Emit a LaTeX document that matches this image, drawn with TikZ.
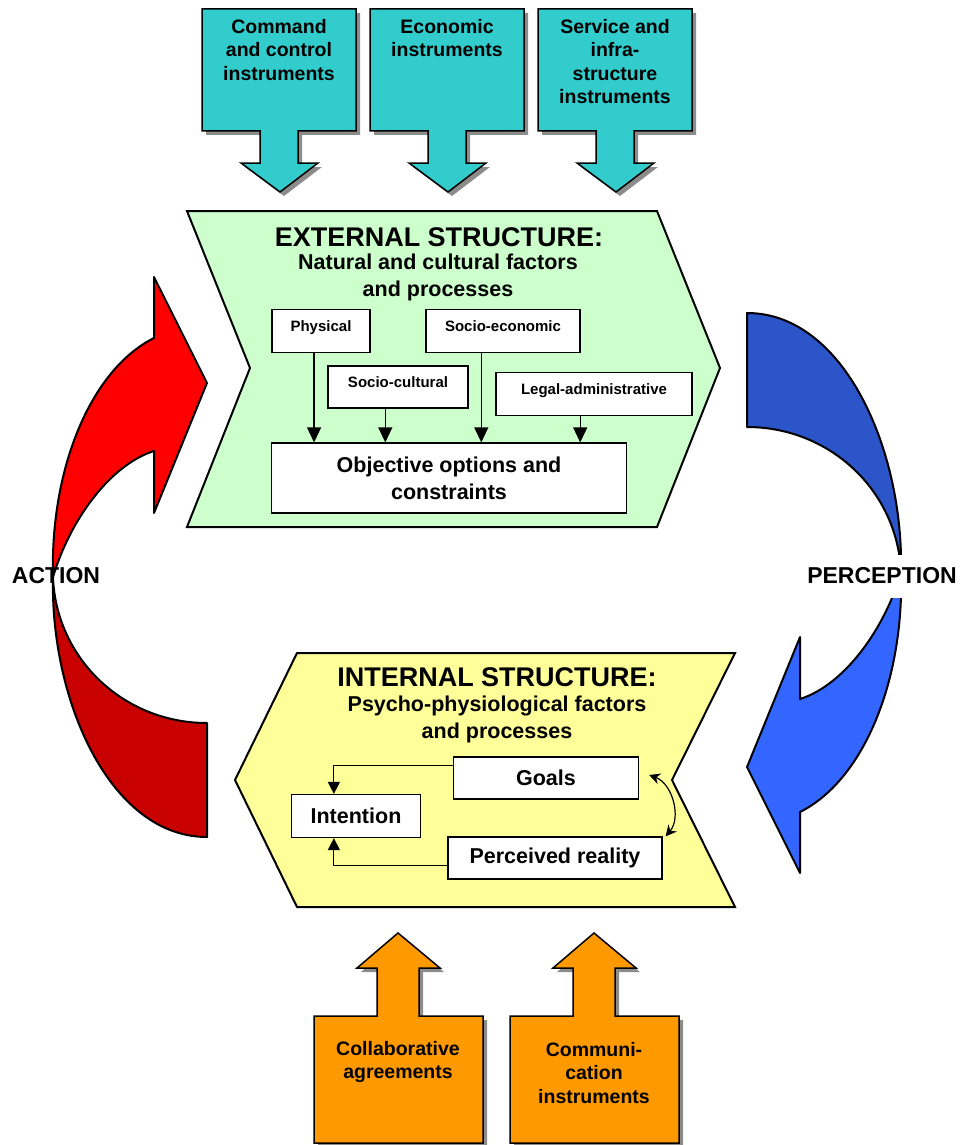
\documentclass[tikz,border=0pt]{standalone}
\usepackage{fontspec}
\setmainfont{Liberation Sans}
\usetikzlibrary{calc,arrows.meta,shadows}
\definecolor{instrcol}{HTML}{33CCCC}
\definecolor{agreecol}{HTML}{FF9900}
\definecolor{extcol}{HTML}{CCFFCC}
\definecolor{intcol}{HTML}{FFFF99}
\definecolor{actionbright}{HTML}{FF0000}
\definecolor{actiondark}{HTML}{C80000}
\definecolor{perceptbright}{HTML}{3366FF}
\definecolor{perceptdark}{HTML}{2B55C8}
\tikzset{
	instrument/.style={draw,line width=1.5pt,fill=instrcol,drop shadow={shadow xshift=4pt,shadow yshift=-4pt,fill=black!45,opacity=1}},%
	agreement/.style={draw,line width=1.5pt,fill=agreecol,drop shadow={shadow xshift=4pt,shadow yshift=-4pt,fill=black!45,opacity=1}},%
	instrtext/.style={font={\bfseries\fontsize{19.5}{23.5}\selectfont},align=center,inner sep=0pt,anchor=north},%
	structure/.style={draw,line width=2pt,line join=miter},%
	heading/.style={font={\bfseries\fontsize{27}{32}\selectfont},inner sep=0pt},%
	subheading/.style={font={\bfseries\fontsize{21.5}{27}\selectfont},align=center,inner sep=0pt},%
	factor/.style={draw,line width=1.2pt,fill=white,font={\bfseries\fontsize{15}{18}\selectfont},inner sep=0pt,text height=11pt,text depth=10pt},%
	element/.style={draw,line width=1.2pt,fill=white,font={\bfseries\fontsize{21.5}{27}\selectfont},align=center,inner sep=0pt},%
	feed/.style={line width=1.2pt,-{Triangle[width=14pt,length=15pt]}},%
	link/.style={line width=1.2pt,-{Triangle[width=12pt,length=12pt]}},%
	mutual/.style={line width=1.2pt,{Stealth[width=11pt,length=11pt]}-{Stealth[width=11pt,length=11pt]}},%
	loopband/.style={draw,line width=2pt,line join=round},%
	looplabel/.style={font={\bfseries\fontsize{23}{27}\selectfont},inner sep=0pt},%
}
\def\loopx{477}
\def\loopy{575}

\begin{document}
\begin{tikzpicture}[x=1pt,y=-1pt]
	\useasboundingbox (0,0) rectangle (960,1145);
	\foreach \x in {202,370,538}
		\filldraw[instrument] (\x,9) -- ++(154,0) -- ++(0,122) -- ++(-58,0) -- ++(0,32) -- ++(20,0) -- ++(-38,29) -- ++(-39,-29) -- ++(19,0) -- ++(0,-32) -- ++(-58,0) -- cycle;
	\node[instrtext] (cmdtext) at (279,19) {Command\\and control\\instruments};
	\node[instrtext] (ecotext) at (447,19) {Economic\\instruments};
	\node[instrtext] (servtext) at (615,19) {Service and\\infra-\\structure\\instruments};

	\foreach \ang/\dark/\bright in {0/actiondark/actionbright,180/perceptdark/perceptbright}{
		\begin{scope}[rotate around={\ang:(\loopx,\loopy)}]
			\path[loopband,fill=\dark] (207,837) -- (207,723) .. controls (124,723) and (56,659) .. (53,577) .. controls (50,700) and (110,837) .. (207,837) -- cycle;
			\path[loopband,fill=\bright] (53,577) .. controls (50,470) and (90,370) .. (154,338) -- (154,277) -- (207,383) -- (154,513) -- (154,451) .. controls (110,465) and (70,520) .. (53,577) -- cycle;
		\end{scope}
	}
	\node[looplabel] (action) at (56,576) {ACTION};
	\node[looplabel,fill=white,minimum height=43pt,inner xsep=2pt] (perception) at (882,576) {PERCEPTION};

	\filldraw[structure,fill=extcol] (187,211) -- (657,211) -- (720,368) -- (657,527) -- (187,527) -- (250,368) -- cycle;
	\node[heading] (exthead) at (439,237) {EXTERNAL STRUCTURE:};
	\node[subheading] (extsub) at (438,277) {Natural and cultural factors\\and processes};
	\node[factor,minimum width=98pt,minimum height=43pt] (phys) at (321,331) {Physical};
	\node[factor,minimum width=154pt,minimum height=43pt] (socecon) at (503,331) {Socio-economic};
	\node[factor,minimum width=140pt,minimum height=42pt] (soccult) at (398,387) {Socio-cultural};
	\node[factor,minimum width=196pt,minimum height=43pt] (legal) at (594,394) {Legal-administrative};
	\node[element,minimum width=355pt,minimum height=70pt] (obj) at (449,478) {Objective options and\\constraints};
	\foreach \src/\pos in {phys/0.43,soccult/0.41,socecon/0.36,legal/0.43}
		\draw[feed] ($(\src.south west)!\pos!(\src.south east)$) coordinate (from-\src) -- (from-\src |- obj.north);

	\filldraw[structure,fill=intcol] (297,653) -- (735,653) -- (672,780) -- (735,907) -- (297,907) -- (235,780) -- cycle;
	\node[heading] (inthead) at (497,677) {INTERNAL STRUCTURE:};
	\node[subheading] (intsub) at (497,719) {Psycho-physiological factors\\and processes};
	\node[element,minimum width=185pt,minimum height=42pt] (goals) at (546,778) {Goals};
	\node[element,minimum width=129pt,minimum height=43pt] (intent) at (356,816) {Intention};
	\node[element,minimum width=214pt,minimum height=42pt] (perc) at (555,858) {Perceived reality};
	\draw[link] ($(goals.north west)!0.21!(goals.south west)$) -| ($(intent.north west)!0.33!(intent.north east)$);
	\draw[link] ($(perc.north west)!0.67!(perc.south west)$) -| ($(intent.south west)!0.33!(intent.south east)$);
	\draw[mutual] ([xshift=10pt,yshift=3pt]goals.east) to[bend left=55] ([xshift=3pt]perc.north east);

	\foreach \x in {314,510}
		\filldraw[agreement] (\x,1143) -- ++(0,-127) -- ++(63,0) -- ++(0,-48) -- ++(-20,0) -- ++(41,-35) -- ++(42,35) -- ++(-21,0) -- ++(0,48) -- ++(64,0) -- ++(0,127) -- cycle;
	\node[instrtext] (collabtext) at (398,1041) {Collaborative\\agreements};
	\node[instrtext] (commtext) at (594,1042) {Communi-\\cation\\instruments};
\end{tikzpicture}
\end{document}
